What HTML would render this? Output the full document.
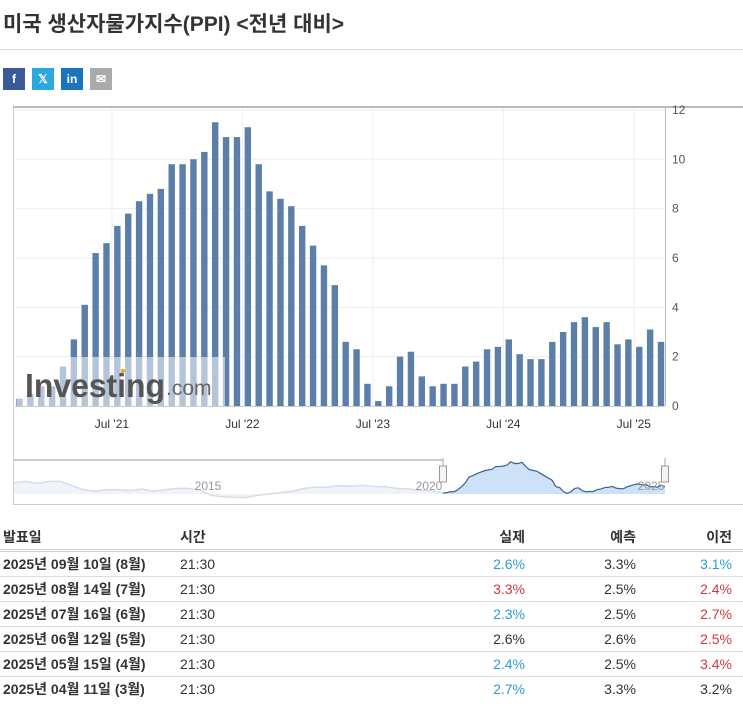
<!DOCTYPE html>
<html><head><meta charset="utf-8">
<style>
body{margin:0;width:743px;height:708px;background:#fff;font-family:"Liberation Sans","Noto Sans CJK KR",sans-serif;position:relative;overflow:hidden}
.t{position:absolute;left:3px;top:8px;font-size:21px;color:#333;font-weight:bold;letter-spacing:0px}
.hr{position:absolute;left:0;top:49px;width:743px;height:1px;background:#ddd}
.soc{position:absolute;top:68px;width:22px;height:22px;color:#fff;font-size:12px;font-weight:bold;text-align:center;line-height:22px}
svg{position:absolute;left:0;top:0}
table{position:absolute;left:0;top:524px;width:743px;border-collapse:collapse;font-size:14px;table-layout:fixed}
th{font-weight:bold;color:#333;text-align:left;height:25px;padding:0 3px;border-bottom:3px double #ccc}
td{height:24px;padding:0 3px;border-bottom:1px solid #ddd;color:#333;white-space:nowrap}
tr:last-child td{border-bottom:none}
.r{text-align:right;padding-right:11px}
.b{color:#2a9fd0}.d{color:#d03a3e}
</style></head><body>
<div class="t">미국 생산자물가지수(PPI) &lt;전년 대비&gt;</div>
<div class="hr"></div>
<div class="soc" style="left:3px;background:#3b5998">f</div>
<div class="soc" style="left:32px;background:#2ca7e0">𝕏</div>
<div class="soc" style="left:61px;background:#1b75bb">in</div>
<div class="soc" style="left:90px;background:#aaa">✉</div>
<svg id="c" width="743" height="510"></svg>
<table>
<colgroup><col style="width:177px"><col style="width:270px"><col style="width:89px"><col style="width:111px"><col style="width:96px"></colgroup>
<tr><th>발표일</th><th>시간</th><th class="r">실제</th><th class="r">예측</th><th class="r">이전</th></tr>
<tr><td><b>2025년 09월 10일 (8월)</b></td><td>21:30</td><td class="r b">2.6%</td><td class="r">3.3%</td><td class="r b">3.1%</td></tr>
<tr><td><b>2025년 08월 14일 (7월)</b></td><td>21:30</td><td class="r d">3.3%</td><td class="r">2.5%</td><td class="r d">2.4%</td></tr>
<tr><td><b>2025년 07월 16일 (6월)</b></td><td>21:30</td><td class="r b">2.3%</td><td class="r">2.5%</td><td class="r d">2.7%</td></tr>
<tr><td><b>2025년 06월 12일 (5월)</b></td><td>21:30</td><td class="r">2.6%</td><td class="r">2.6%</td><td class="r d">2.5%</td></tr>
<tr><td><b>2025년 05월 15일 (4월)</b></td><td>21:30</td><td class="r b">2.4%</td><td class="r">2.5%</td><td class="r d">3.4%</td></tr>
<tr><td><b>2025년 04월 11일 (3월)</b></td><td>21:30</td><td class="r b">2.7%</td><td class="r">3.3%</td><td class="r">3.2%</td></tr>
</table>
<script>
const values=[0.3,0.5,0.8,0.8,1.6,2.7,4.1,6.2,6.6,7.3,7.8,8.3,8.6,8.8,9.8,9.8,10.0,10.3,11.5,10.9,10.9,11.3,9.8,8.7,8.4,8.1,7.3,6.5,5.7,4.9,2.6,2.3,0.9,0.2,0.8,2.0,2.2,1.2,0.8,0.9,0.9,1.6,1.8,2.3,2.4,2.7,2.1,1.9,1.9,2.6,3.0,3.4,3.6,3.2,3.4,2.5,2.7,2.4,3.1,2.6];
const tickLabels=["Jul '21","Jul '22","Jul '23","Jul '24","Jul '25"];
const tickIdx=[8.5,20.5,32.5,44.5,56.5];
const yTicks=[0,2,4,6,8,10,12];
const navHist=[4,4.5,3.8,4.5,4.5,3,1.5,1,1.5,1.5,1.2,1.8,1,1.5,2,2,1.5,-0.5,-1,-1.2,-1.3,-0.5,0,0.5,1,2,2.4,2.4,3,2.8,3.1,2.7,2.6,2,1.8,1.4,1.1,0.5];
const NS="http://www.w3.org/2000/svg",s=document.getElementById('c');
function el(t,a,p){const e=document.createElementNS(NS,t);for(const k in a)e.setAttribute(k,a[k]);(p||s).appendChild(e);return e;}
const x=i=>19.5+i*(641.5/(values.length-1));
const y=v=>406-v*24.67;
el('rect',{x:13.5,y:107.5,width:740,height:397,fill:'none',stroke:'#ccc'});
el('line',{x1:13,y1:107,x2:743,y2:107,stroke:'#bbb','stroke-width':2});
yTicks.forEach(v=>{
 const g=el('line',{x1:15,x2:665,y1:y(v),y2:y(v),stroke:'#eee'});
 
 const t=el('text',{x:672,y:y(v)+4,'font-size':12,fill:'#555'});t.textContent=v;
 
});
tickIdx.forEach((ti,k)=>{
 el('line',{x1:x(ti),x2:x(ti),y1:108,y2:406,stroke:'#eee'});
 const t=el('text',{x:x(ti),y:428,'font-size':12,fill:'#333','text-anchor':'middle'});t.textContent=tickLabels[k];
 
});
values.forEach((v,i)=>{
 const r=el('rect',{x:x(i)-3.2,y:y(v),width:6.4,height:406-y(v),fill:'#5b7fa8'});
 
});
el('line',{x1:665.5,x2:665.5,y1:108,y2:406,stroke:'#bbb'});
el('line',{x1:15,x2:665,y1:406.5,y2:406.5,stroke:'#ccc'});
el('rect',{x:17,y:357,width:208,height:49,fill:'#fff','fill-opacity':0.55});
const w=el('text',{x:25,y:397,'font-size':33,'font-weight':'bold',fill:'#555',textLength:140,lengthAdjust:'spacingAndGlyphs'});w.textContent='Investing';

const w2=el('text',{x:166,y:395,'font-size':21,fill:'#666'});w2.textContent='.com';
el('circle',{cx:123,cy:371,r:2.2,fill:'#f5a623'});
const nx0=14,nx1=443,nx2=665,ny=v=>494-v*2.8;
let pts=navHist.map((v,i)=>[nx0+i*(nx1-nx0)/(navHist.length-1),ny(v)]);
el('polygon',{points:[[nx0,494],...pts,[nx1,494]].map(p=>p.join(',')).join(' '),fill:'#f0f4fa'});
el('polyline',{points:pts.map(p=>p.join(',')).join(' '),fill:'none',stroke:'#d6dde6','stroke-width':1.5});
let sp=values.map((v,i)=>[nx1+i*(nx2-nx1)/(values.length-1),ny(v)]);
el('polygon',{points:[[nx1,494],...sp,[nx2,494]].map(p=>p.join(',')).join(' '),fill:'#cde1f8'});
const nl=el('polyline',{points:sp.map(p=>p.join(',')).join(' '),fill:'none',stroke:'#3d6286','stroke-width':1.2});

el('line',{x1:nx0,x2:nx1,y1:460,y2:460,stroke:'#bbb','stroke-width':1.5});
[['2015',208],['2020',429],['2025',651]].forEach(([l,xx])=>{const t=el('text',{x:xx,y:490,'font-size':12,fill:'#999','text-anchor':'middle'});t.textContent=l;});
[nx1,nx2].forEach(hx=>{
 el('line',{x1:hx,x2:hx,y1:458,y2:466,stroke:'#aaa'});
 const h=el('rect',{x:hx-3.5,y:466,width:7,height:16,fill:'#f4f4f4',stroke:'#999'});
 
});
</script>
</body></html>
